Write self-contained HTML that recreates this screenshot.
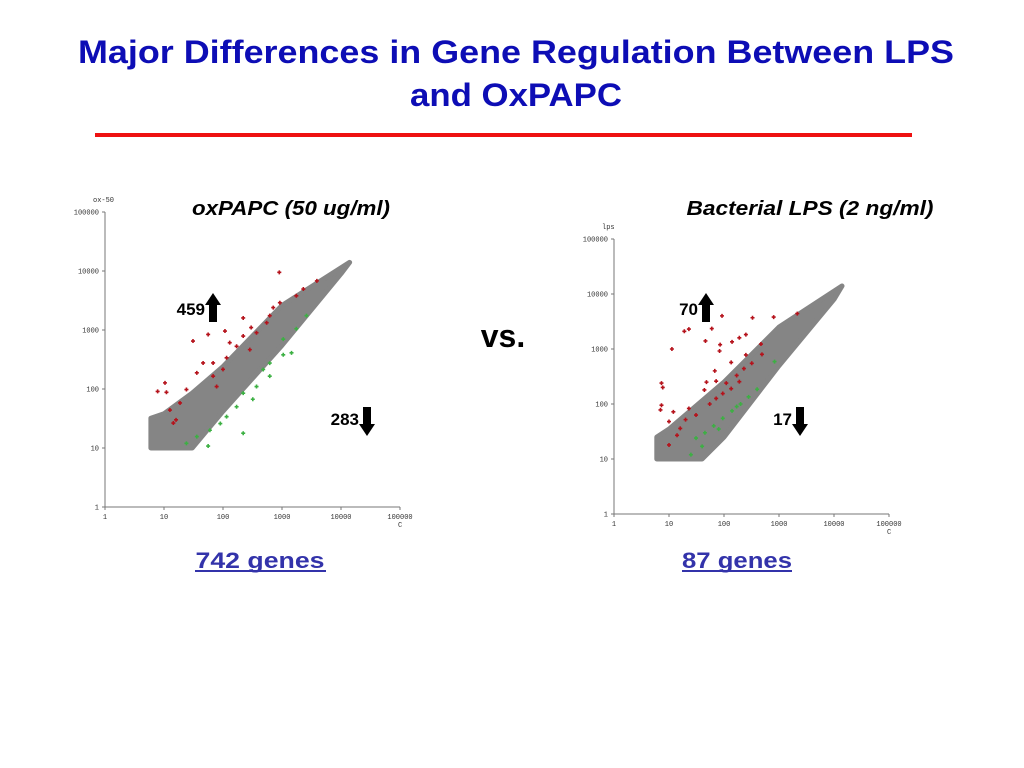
<!DOCTYPE html>
<html><head><meta charset="utf-8"><style>
html,body{margin:0;padding:0;background:#fff;}
svg{display:block;font-family:"Liberation Sans",sans-serif;}
</style></head><body>
<svg id="page" width="1024" height="768" viewBox="0 0 1024 768">
<text x="516" y="63" text-anchor="middle" font-size="32" font-weight="bold" fill="#0d0db5" textLength="876" lengthAdjust="spacingAndGlyphs">Major Differences in Gene Regulation Between LPS</text>
<text x="516" y="106" text-anchor="middle" font-size="32" font-weight="bold" fill="#0d0db5" textLength="212" lengthAdjust="spacingAndGlyphs">and OxPAPC</text>
<rect x="95" y="133" width="817" height="4" fill="#ee1111"/>
<text x="291" y="215" text-anchor="middle" font-size="20" font-weight="bold" font-style="italic" textLength="198" lengthAdjust="spacingAndGlyphs">oxPAPC (50 ug/ml)</text>
<text x="810" y="215" text-anchor="middle" font-size="20" font-weight="bold" font-style="italic" textLength="247" lengthAdjust="spacingAndGlyphs">Bacterial LPS (2 ng/ml)</text>
<text x="503" y="347" text-anchor="middle" font-size="32" font-weight="bold">vs.</text>
<text x="260" y="568" text-anchor="middle" font-size="22" font-weight="bold" fill="#3333aa" textLength="129" lengthAdjust="spacingAndGlyphs">742  genes</text>
<line x1="195" y1="571" x2="326" y2="571" stroke="#3333aa" stroke-width="2"/>
<text x="737" y="568" text-anchor="middle" font-size="22" font-weight="bold" fill="#3333aa" textLength="110" lengthAdjust="spacingAndGlyphs">87 genes</text>
<line x1="682" y1="571" x2="792" y2="571" stroke="#3333aa" stroke-width="2"/>
<g id="left"></g><g id="right"></g>
</svg>
<script>
// ---- Left chart data (oxPAPC vs control) ----
const leftBandX = [6, 10, 30, 100, 1000, 14000, 10000, 1000, 100, 30, 6];
const leftBandY = [32, 38, 85, 240, 2600, 14000, 9000, 550, 42, 10, 10];
const leftRedX = [7.8,11,10.4,12.6,18.7,24,36,46,68,115,170,220,370,550,710,920,1750,2300,3900,68,100,285,78,16,14.4,31,56,108,220,900,130,300,620];
const leftRedY = [91,88,127,44,58,98,188,276,276,338,530,790,900,1330,2400,2900,3800,4950,6800,165,215,465,110,30,26.5,650,840,960,1600,9500,610,1100,1750];
const leftGreenX = [56,220,320,1450,1050,620,170,90,36,2600,1750,370,115,60,24,620,220,1050,480];
const leftGreenY = [10.8,17.8,67,410,380,165,50,26,15.6,1750,1050,110,34,20,12,275,85,700,214];
// ---- Right chart data (LPS vs control) ----
const rightBandX = [6, 10, 100, 1000, 14000, 10000, 1000, 100, 40, 6];
const rightBandY = [25, 35, 250, 2500, 14000, 8000, 500, 25, 10, 10];
const rightRedX = [11.3,19,23,60,92,330,800,2150,46,85,83,140,190,250,135,470,490,250,7.3,7.7,7.3,7,12,10,23,72,48,68,44,110,170,230,320,16,20,31,10,14,55,72,95,135,190];
const rightRedY = [1000,2100,2300,2350,4000,3700,3800,4400,1400,1200,920,1350,1600,1830,570,1230,800,780,240,200,95,78,72,48,83,260,250,400,180,240,330,440,550,36,52,63,18,27,100,126,155,190,255];
const rightGreenX = [31,45,65,95,140,200,280,400,830,170,80,40,25];
const rightGreenY = [24,30,40,55,75,100,135,185,590,90,35,17,12];
const tickLabels = ["1","10","100","1000","10000","100000"];

function chart(gid, name, x0, y0, dec, yLabel, bx, by, rx, ry, gx, gy) {
  const g = document.getElementById(gid);
  const ns = "http://www.w3.org/2000/svg";
  const X = v => x0 + Math.log10(v) * dec;
  const Y = v => y0 - Math.log10(v) * dec;
  function mk(tag, attrs, parent) {
    const e = document.createElementNS(ns, tag);
    for (const k in attrs) e.setAttribute(k, attrs[k]);
    (parent || g).appendChild(e); return e;
  }
  const ax = mk("path", {d:`M${x0} ${Y(100000)}V${y0}H${X(100000)}`, stroke:"#777", fill:"none", "stroke-width":1});
  
  
  tickLabels.forEach((t, i) => {
    const v = Math.pow(10, i);
    const tk = mk("path", {d:`M${x0-3} ${Y(v)}H${x0}M${X(v)} ${y0}V${y0+3}`, stroke:"#777"});
    
    
    const ly = mk("text", {x:x0-6, y:Y(v)+2.5, "text-anchor":"end", "font-size":7, fill:"#333", "font-family":"Liberation Mono, monospace"});
    ly.textContent = t;
    
    
    const lx = mk("text", {x:X(v), y:y0+12, "text-anchor":"middle", "font-size":7, fill:"#333", "font-family":"Liberation Mono, monospace"});
    lx.textContent = t;
    
    
  });
  const yt = mk("text", {x:x0-12, y:Y(100000)-10, "font-size":7, fill:"#333", "font-family":"Liberation Mono, monospace"});
  yt.textContent = yLabel;
  
  
  const xt = mk("text", {x:X(100000)-2, y:y0+20, "font-size":7, fill:"#333", "font-family":"Liberation Mono, monospace"});
  xt.textContent = "C";
  
  
  const pts = bx.map((v, i) => X(v).toFixed(1) + "," + Y(by[i]).toFixed(1)).join(" ");
  const band = mk("polygon", {points:pts, fill:"#858585", stroke:"#858585", "stroke-width":5, "stroke-linejoin":"round"});
  
  
  function dots(xs, ys, col, nm) {
    xs.forEach((v, i) => {
      const cx = X(v), cy = Y(ys[i]);
      const d = mk("path", {d:`M${cx-2} ${cy}H${cx+2}M${cx} ${cy-2}V${cy+2}`, stroke:col, "stroke-width":1.6});
      
      
    });
  }
  dots(rx, ry, "#b5121b", name + '-upregulated-point');
  dots(gx, gy, "#3cb043", name + '-downregulated-point');
}
chart("left", "left-chart", 105, 507, 59, "ox-50", leftBandX, leftBandY, leftRedX, leftRedY, leftGreenX, leftGreenY);
chart("right", "right-chart", 614, 514, 55, "lps", rightBandX, rightBandY, rightRedX, rightRedY, rightGreenX, rightGreenY);

function label(txt, x, y, up, name) {
  const ns = "http://www.w3.org/2000/svg";
  const svg = document.getElementById("page");
  const t = document.createElementNS(ns, "text");
  t.setAttribute("x", x); t.setAttribute("y", y); t.setAttribute("font-size", 17);
  t.setAttribute("font-weight", "bold"); t.setAttribute("text-anchor", "end");
  t.textContent = txt;
  
  
  svg.appendChild(t);
  const a = document.createElementNS(ns, "path");
  const ax = x + 8;
  const d = up ? `M${ax-4} ${y+7}V${y-10}H${ax-8}L${ax} ${y-22}L${ax+8} ${y-10}H${ax+4}V${y+7}Z`
               : `M${ax-4} ${y-18}V${y-1}H${ax-8}L${ax} ${y+11}L${ax+8} ${y-1}H${ax+4}V${y-18}Z`;
  a.setAttribute("d", d); a.setAttribute("fill", "#000");
  
  
  svg.appendChild(a);
}
label("459", 205, 315, true, "left-up");
label("283", 359, 425, false, "left-down");
label("70", 698, 315, true, "right-up");
label("17", 792, 425, false, "right-down");
</script>
</body></html>
